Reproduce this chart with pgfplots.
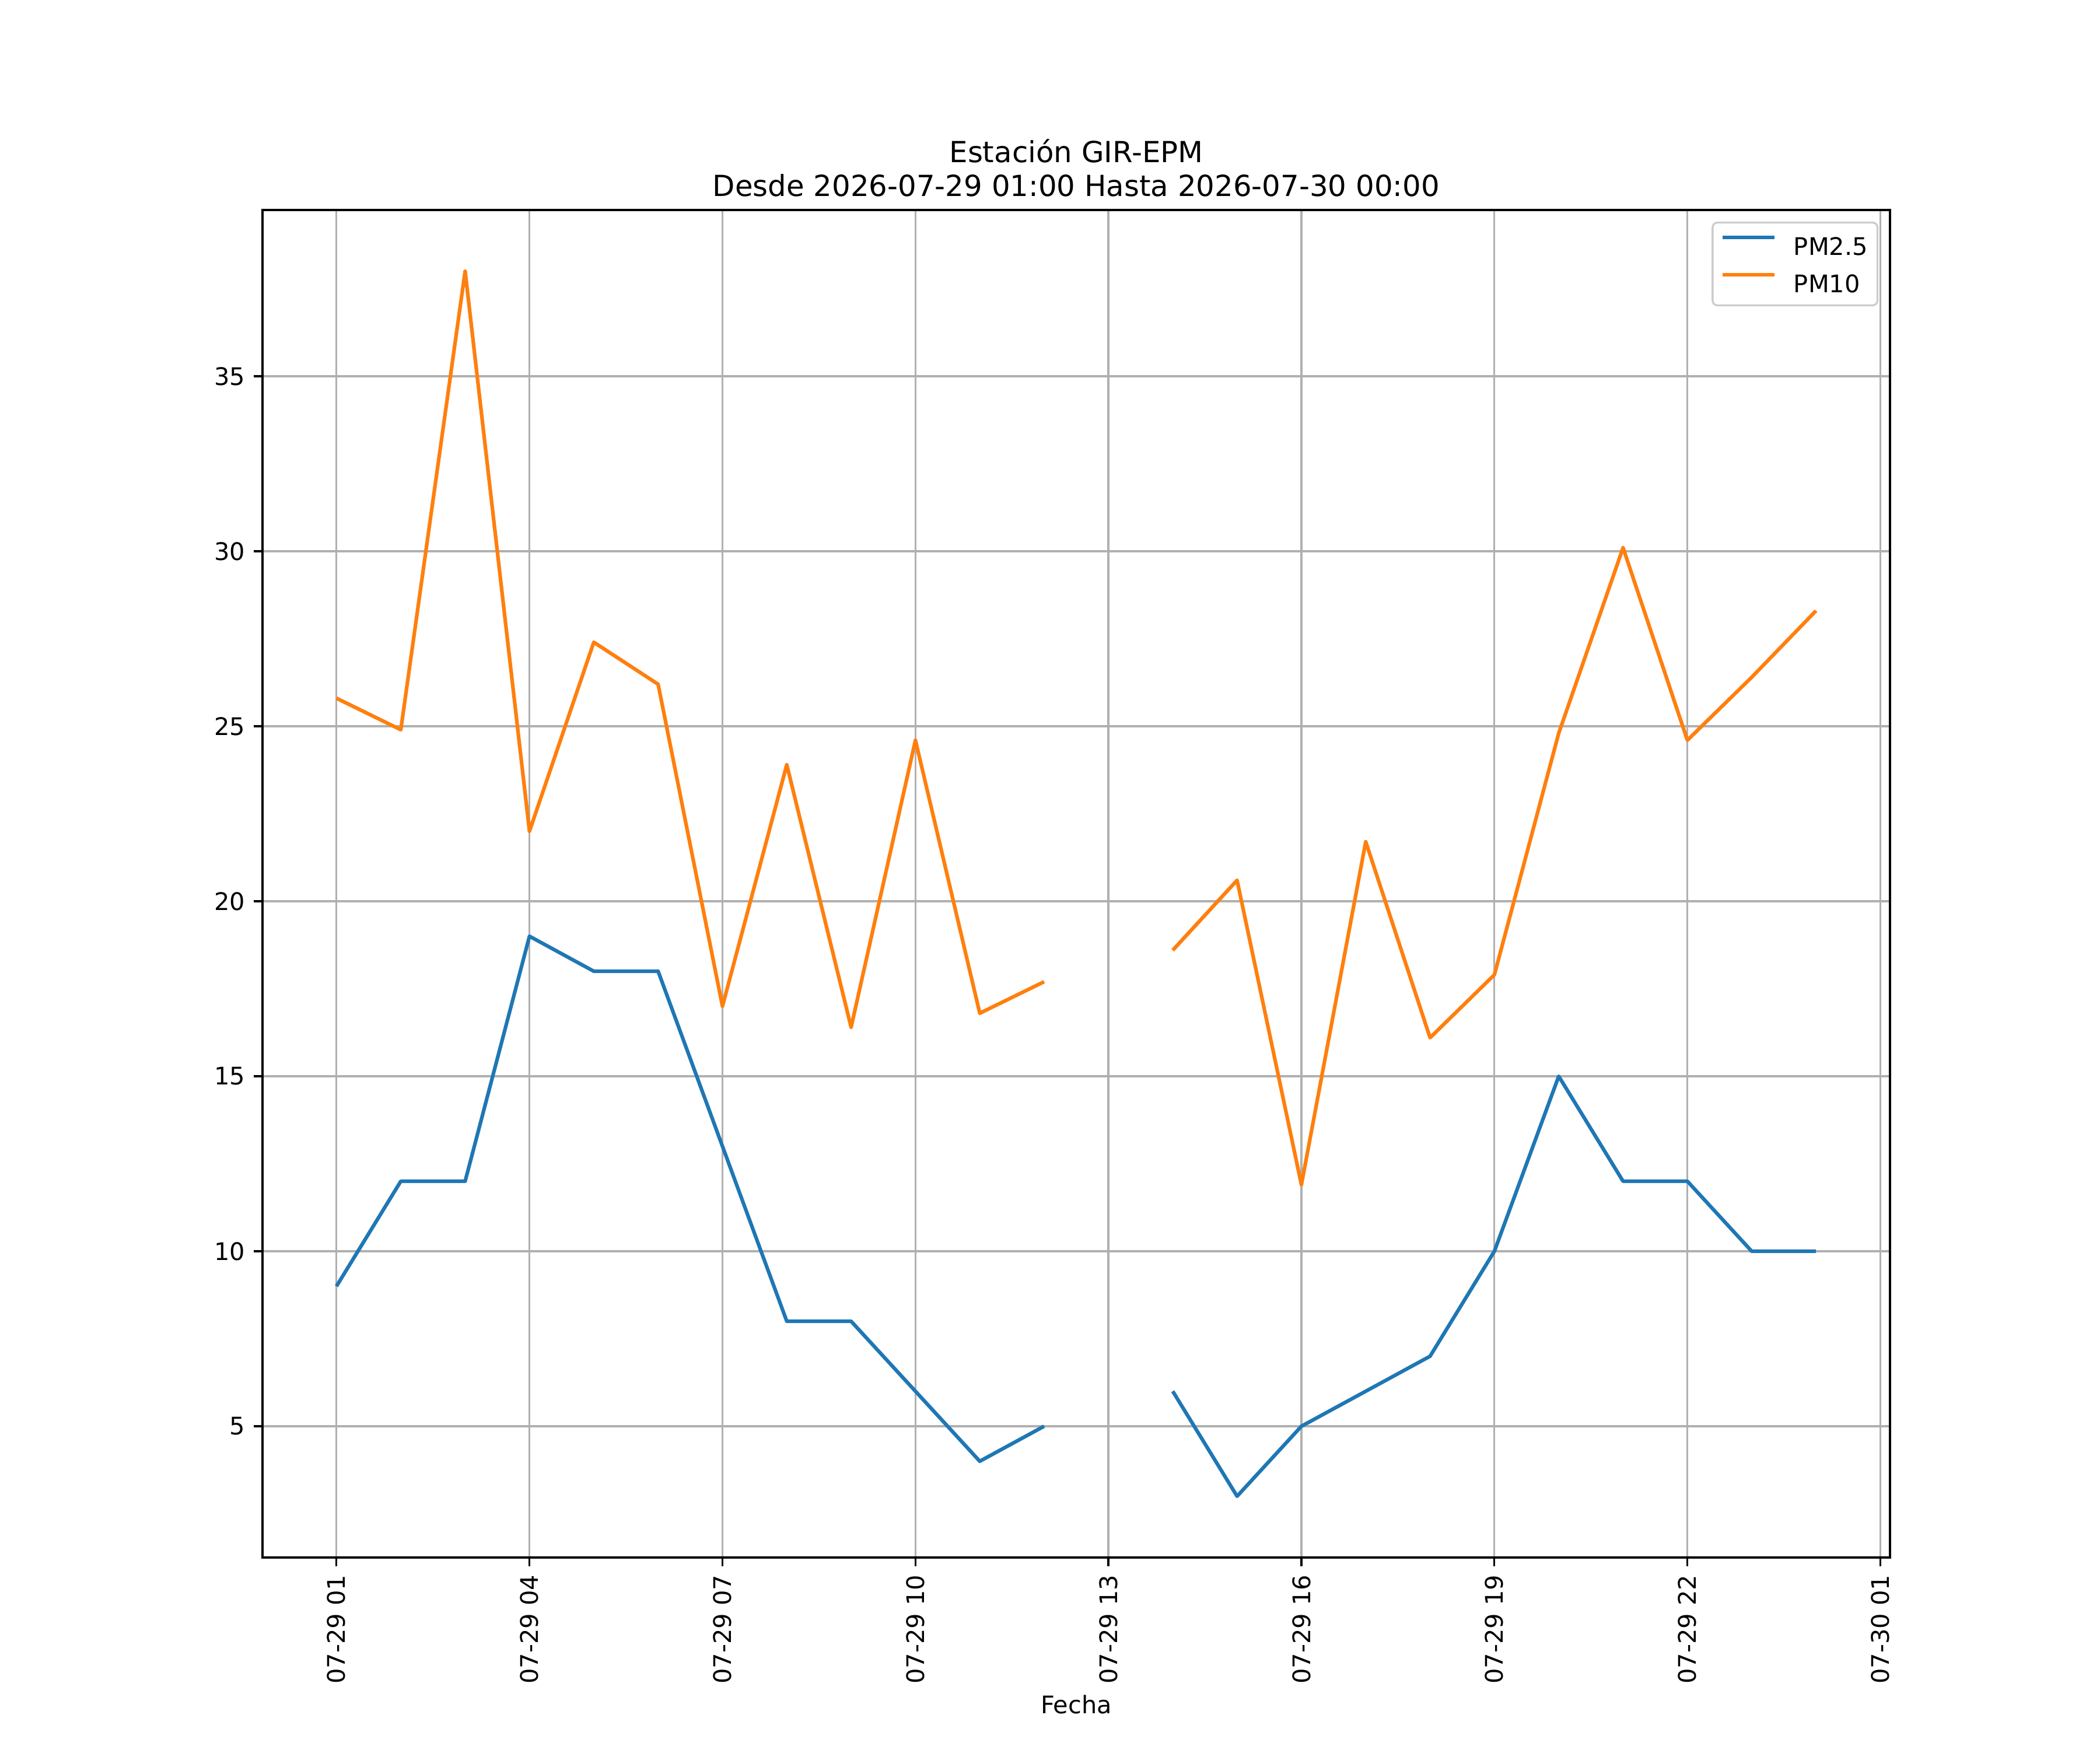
\documentclass[border=0pt]{standalone}
\usepackage{pgfplots}
\pgfplotsset{compat=1.18}
\usepackage{fontspec}
\setmainfont{DejaVu Sans}
\definecolor{c0}{HTML}{1F77B4}
\definecolor{c1}{HTML}{FF7F0E}
\definecolor{gridc}{HTML}{B0B0B0}
\begin{document}
\begin{tikzpicture}
\path[use as bounding box] (0,0) rectangle (12in,10in);
\begin{axis}[
  at={(1.5in,1.1in)}, anchor=south west,
  scale only axis, width=9.3in, height=7.7in,
  xmin=-0.15, xmax=25.15, ymin=1.25, ymax=39.75,
  xtick={1,4,7,10,13,16,19,22,25},
  xticklabels={07-29 01,07-29 04,07-29 07,07-29 10,07-29 13,07-29 16,07-29 19,07-29 22,07-30 01},
  ytick={5,10,15,20,25,30,35},
  tick pos=left, tick align=outside, major tick length=3.5pt,
  every tick/.style={black, line width=0.8pt},
  axis line style={line width=0.8pt},
  xmajorgrids, ymajorgrids,
  grid style={gridc, line width=0.8pt},
  ticklabel style={font=\fontsize{10}{12}\selectfont},
  /pgf/number format/assume math mode=true,
  xticklabel style={rotate=90, anchor=east, inner sep=0pt},
  xticklabel shift=3.5pt,
  yticklabel style={inner sep=0pt},
  yticklabel shift=3.5pt,
  unbounded coords=jump,
  legend cell align=left,
  legend image code/.code={\draw[#1, line cap=rect] (0pt,3.65pt) -- (20pt,3.65pt);},
  legend style={at={(1,1)}, anchor=north east, xshift=-4.8pt, yshift=-4.8pt,
    draw=black!20, line width=0.8pt, rounded corners=2pt,
    fill=white, fill opacity=0.8, text opacity=1,
    inner xsep=4pt, inner ysep=5.4pt, row sep=7.3pt,
    font=\fontsize{10}{12}\selectfont,
    nodes={inner sep=0pt, text height=7.3pt, text depth=0pt},
    /tikz/every odd column/.append style={column sep=8pt},
    /tikz/every even column/.append style={column sep=5pt}},
]
\addplot[c0, line width=1.5pt, line join=round] coordinates {
(1,9) (2,12) (3,12) (4,19) (5,18) (6,18) (7,13) (8,8) (9,8) (10,6) (11,4) (12,5)
(13,nan)
(14,6) (15,3) (16,5) (17,6) (18,7) (19,10) (20,15) (21,12) (22,12) (23,10) (24,10)
};
\addlegendentry{PM2.5}
\addplot[c1, line width=1.5pt, line join=round] coordinates {
(1,25.8) (2,24.9) (3,38.0) (4,22.0) (5,27.4) (6,26.2) (7,17.0) (8,23.9) (9,16.4) (10,24.6) (11,16.8) (12,17.7)
(13,nan)
(14,18.6) (15,20.6) (16,11.9) (17,21.7) (18,16.1) (19,17.9) (20,24.8) (21,30.1) (22,24.6) (23,26.4) (24,28.3)
};
\addlegendentry{PM10}
\end{axis}
\node[anchor=base, inner sep=0pt, font=\fontsize{12}{14}\selectfont] at (6.15in,8.878in) {Desde 2026-07-29 01:00 Hasta 2026-07-30 00:00};
\node[anchor=base, inner sep=0pt, font=\fontsize{12}{14}\selectfont] at (6.15in,9.072in) {Estación GIR-EPM};
\node[anchor=base, inner sep=0pt, font=\fontsize{10}{12}\selectfont] at (6.15in,0.208in) {Fecha};
\end{tikzpicture}
\end{document}
